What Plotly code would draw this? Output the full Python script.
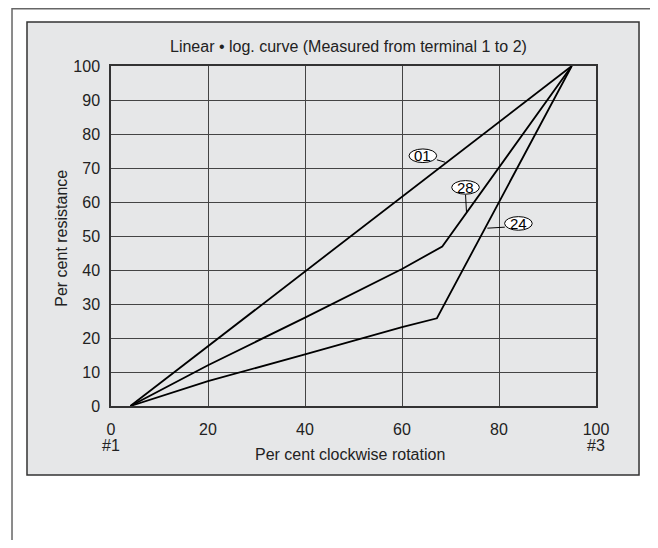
import plotly.graph_objects as go

# curve data (per cent rotation -> per cent resistance)
curve_01_x = [4, 95]
curve_01_y = [0, 100]

curve_28_x = [4, 20, 40, 60, 68.3, 95]
curve_28_y = [0, 12, 26, 40.3, 46.9, 100]

curve_24_x = [4, 20, 40, 60, 67.2, 95]
curve_24_y = [0, 7.3, 15.2, 23.2, 25.8, 100]

x_tick_vals = [0, 20, 40, 60, 80, 100]
x_tick_text = ["0", "20", "40", "60", "80", "100"]
y_tick_vals = [0, 10, 20, 30, 40, 50, 60, 70, 80, 90, 100]
terminal_labels = ["#1", "#3"]

# curve labels: name, ellipse centre, leader line start/end (data units)
labels = [
    ("01", 64.3, 73.6, (67.2, 72.4), (68.9, 71.7)),
    ("28", 73.1, 64.3, (73.1, 62.2), (73.3, 56.9)),
    ("24", 84.0, 53.7, (81.2, 52.6), (77.6, 52.3)),
]

FONT = "Liberation Sans, Arial, Helvetica, sans-serif"
TXT = "#222222"

fig = go.Figure()
for xs, ys in [(curve_01_x, curve_01_y), (curve_28_x, curve_28_y), (curve_24_x, curve_24_y)]:
    fig.add_trace(go.Scatter(x=xs, y=ys, mode="lines",
                             line=dict(color="black", width=1.8),
                             showlegend=False, hoverinfo="skip"))

shapes = [
    # outer frame
    dict(type="rect", xref="paper", yref="paper", x0=-0.2041, x1=1.1175, y0=-0.46, y1=1.1684,
         line=dict(color="#666666", width=1.5), fillcolor="white", layer="below"),
    # grey panel
    dict(type="rect", xref="paper", yref="paper", x0=-0.1732, x1=1.0887, y0=-0.2029, y1=1.1294,
         line=dict(color="#333333", width=1.5), fillcolor="#e6e7e8", layer="below"),
]
annotations = []
rx, ry = 2.85, 2.0
for name, cx, cy, p0, p1 in labels:
    shapes.append(dict(type="line", xref="x", yref="y", x0=p0[0], y0=p0[1], x1=p1[0], y1=p1[1],
                       line=dict(color="black", width=1)))
    shapes.append(dict(type="circle", xref="x", yref="y", x0=cx - rx, x1=cx + rx,
                       y0=cy - ry, y1=cy + ry, line=dict(color="black", width=1),
                       fillcolor="white"))
    annotations.append(dict(x=cx, y=cy, xref="x", yref="y", text=name, showarrow=False,
                            xanchor="center", yanchor="middle",
                            font=dict(size=15, color="black", family=FONT)))

# terminal markers under the end ticks
for xv, t in zip([x_tick_vals[0], x_tick_vals[-1]], terminal_labels):
    annotations.append(dict(x=xv, y=-0.117, xref="x", yref="paper", text=t, showarrow=False,
                            xanchor="center", yanchor="middle",
                            font=dict(size=16, color=TXT, family=FONT)))

# title and axis titles placed by hand inside the grey panel
annotations.append(dict(x=0.4887, y=1.0588, xref="paper", yref="paper",
                        text="Linear • log. curve (Measured from terminal 1 to 2)",
                        showarrow=False, xanchor="center", yanchor="middle",
                        font=dict(size=16, color=TXT, family=FONT)))
annotations.append(dict(x=0.4928, y=-0.1441, xref="paper", yref="paper",
                        text="Per cent clockwise rotation", showarrow=False,
                        xanchor="center", yanchor="middle",
                        font=dict(size=16, color=TXT, family=FONT)))
annotations.append(dict(x=-0.1037, y=0.494, xref="paper", yref="paper",
                        text="Per cent resistance", showarrow=False, textangle=-90,
                        xanchor="center", yanchor="middle",
                        font=dict(size=16, color=TXT, family=FONT)))

fig.update_layout(
    width=650, height=532,
    margin=dict(l=103, r=62, t=58, b=134),
    paper_bgcolor="white", plot_bgcolor="white",
    font=dict(family=FONT, size=16, color=TXT),
    shapes=shapes,
    annotations=annotations,
)
fig.update_xaxes(range=[0, 100], tickvals=x_tick_vals, ticktext=x_tick_text,
                 showgrid=True, gridcolor="#444444", gridwidth=1.2,
                 showline=True, mirror=True, linecolor="#333333", linewidth=1.5,
                 zeroline=False, ticks="", ticklabelstandoff=8)
fig.update_yaxes(range=[0, 100], tickvals=y_tick_vals,
                 showgrid=True, gridcolor="#444444", gridwidth=1.2,
                 showline=True, mirror=True, linecolor="#333333", linewidth=1.5,
                 zeroline=False, ticks="", ticklabelstandoff=6)

fig.write_html("out.html")
